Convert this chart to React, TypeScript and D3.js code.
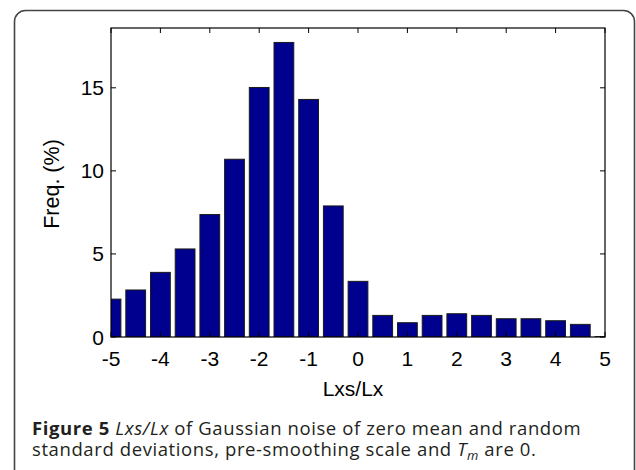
import * as d3 from "d3";
import { useEffect, useRef } from "react";

// histogram bin centres (Lxs/Lx) and frequencies (%)
const binCenters = [-5, -4.5, -4, -3.5, -3, -2.5, -2, -1.5, -1, -0.5, 0, 0.5, 1, 1.5, 2, 2.5, 3, 3.5, 4, 4.5, 5];
const freqs = [2.28, 2.83, 3.89, 5.3, 7.37, 10.7, 15.02, 17.73, 14.3, 7.89, 3.35, 1.3, 0.86, 1.3, 1.4, 1.3, 1.1, 1.1, 0.98, 0.76, 0.02];
const xTicks = [-5, -4, -3, -2, -1, 0, 1, 2, 3, 4, 5];
const yTicks = [0, 5, 10, 15];

const App = () => {
  const svgRef = useRef<SVGSVGElement>(null);

  useEffect(() => {
    const svg = d3.select(svgRef.current);
    svg.selectAll("*").remove();

    // plot area
    const left = 111,
      right = 605,
      top = 28,
      bottom = 337;

    const x = d3.scaleLinear().domain([-5, 5]).range([left, right]);
    const y = d3.scaleLinear().domain([0, 18.6]).range([bottom, top]);
    const barW = x(0.4) - x(0);

    // card border
    svg
      .append("rect")
      .attr("x", 14.5)
      .attr("y", 10.5)
      .attr("width", 620)
      .attr("height", 500)
      .attr("rx", 11)
      .attr("fill", "none")
      .attr("stroke", "#444")
      .attr("stroke-width", 1.6);

    svg
      .append("clipPath")
      .attr("id", "plotclip")
      .append("rect")
      .attr("x", left)
      .attr("y", top)
      .attr("width", right - left)
      .attr("height", bottom - top);

    // bars
    svg
      .append("g")
      .attr("clip-path", "url(#plotclip)")
      .selectAll("rect")
      .data(binCenters)
      .enter()
      .append("rect")
      .attr("x", (d) => x(d) - barW / 2)
      .attr("y", (d, i) => y(freqs[i]))
      .attr("width", barW)
      .attr("height", (d, i) => y(0) - y(freqs[i]))
      .attr("fill", "#00008f")
      .attr("stroke", "#1a1a1a")
      .attr("stroke-width", 1);

    // box
    svg
      .append("rect")
      .attr("x", left)
      .attr("y", top)
      .attr("width", right - left)
      .attr("height", bottom - top)
      .attr("fill", "none")
      .attr("stroke", "#000")
      .attr("stroke-width", 1.2);

    const tickLen = 5;
    const ticks = svg.append("g").attr("stroke", "#000").attr("stroke-width", 1);
    xTicks.forEach((t) => {
      ticks.append("line").attr("x1", x(t)).attr("x2", x(t)).attr("y1", bottom).attr("y2", bottom - tickLen);
      ticks.append("line").attr("x1", x(t)).attr("x2", x(t)).attr("y1", top).attr("y2", top + tickLen);
    });
    yTicks.forEach((t) => {
      ticks.append("line").attr("x1", left).attr("x2", left + tickLen).attr("y1", y(t)).attr("y2", y(t));
      ticks.append("line").attr("x1", right).attr("x2", right - tickLen).attr("y1", y(t)).attr("y2", y(t));
    });

    const font = "'Liberation Sans', Arial, sans-serif";

    svg
      .append("g")
      .selectAll("text")
      .data(xTicks)
      .enter()
      .append("text")
      .attr("x", (d) => x(d))
      .attr("y", 366)
      .attr("text-anchor", "middle")
      .attr("font-family", font)
      .attr("font-size", 21)
      .text((d) => d);

    svg
      .append("g")
      .selectAll("text")
      .data(yTicks)
      .enter()
      .append("text")
      .attr("x", left - 7)
      .attr("y", (d) => y(d))
      .attr("dy", "0.36em")
      .attr("text-anchor", "end")
      .attr("font-family", font)
      .attr("font-size", 21)
      .text((d) => d);

    svg
      .append("text")
      .attr("x", x(0) - 5)
      .attr("y", 396)
      .attr("text-anchor", "middle")
      .attr("font-family", font)
      .attr("font-size", 21)
      .text("Lxs/Lx");

    svg
      .append("text")
      .attr("transform", "translate(59," + 184 + ") rotate(-90)")
      .attr("text-anchor", "middle")
      .attr("font-family", font)
      .attr("font-size", 21.5)
      .text("Freq. (%)");

    // caption
    const cap = svg
      .append("text")
      .attr("x", 32)
      .attr("y", 435)
      .attr("font-family", "'Open Sans', sans-serif")
      .attr("font-size", 18.5)
      .attr("letter-spacing", 0.6)
      .attr("fill", "#231f20");
    cap.append("tspan").attr("font-weight", "bold").text("Figure 5 ");
    cap.append("tspan").attr("font-style", "italic").text("Lxs/Lx");
    cap.append("tspan").text(" of Gaussian noise of zero mean and random");

    const cap2 = svg
      .append("text")
      .attr("x", 32)
      .attr("y", 456)
      .attr("font-family", "'Open Sans', sans-serif")
      .attr("font-size", 18.5)
      .attr("letter-spacing", 0.6)
      .attr("fill", "#231f20");
    cap2.append("tspan").text("standard deviations, pre-smoothing scale and ");
    cap2.append("tspan").attr("font-style", "italic").text("T");
    cap2.append("tspan").attr("font-style", "italic").attr("font-size", 13).attr("dy", 4).text("m");
    cap2.append("tspan").attr("dy", -4).text(" are 0.");
  }, []);

  return (
    <svg
      ref={svgRef}
      width={636}
      height={470}
      style={{ position: "absolute", left: 0, top: 0, background: "#fff" }}
    ></svg>
  );
};

export default App;
